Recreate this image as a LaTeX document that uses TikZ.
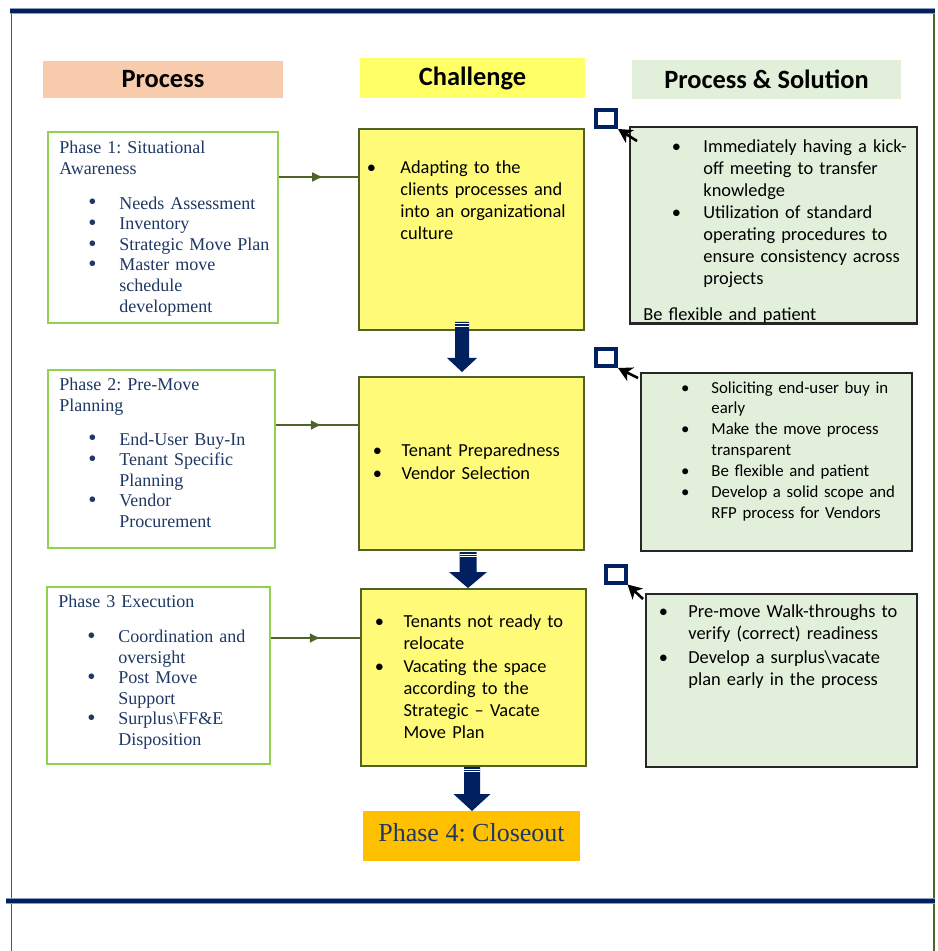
\documentclass[tikz,border=0pt]{standalone}
\usepackage{fontspec}
\setmainfont{Liberation Serif}
\newfontfamily\calibri{Carlito}
\usepackage{enumitem}
\usepackage{tikz}
\usetikzlibrary{arrows.meta, decorations.markings}

\definecolor{navy}{HTML}{002060}
\definecolor{inknavy}{HTML}{1F3864}
\definecolor{leaf}{HTML}{92D050}
\definecolor{leafdark}{HTML}{4F6228}
\definecolor{peach}{HTML}{F8CBAD}
\definecolor{lemonhead}{HTML}{FFFF66}
\definecolor{lemon}{HTML}{FFFB78}
\definecolor{mint}{HTML}{E2EFDA}
\definecolor{amber}{HTML}{FFC000}

\frenchspacing
\setlist[itemize]{label=\makebox[0pt]{\textbullet}, nosep}
\newcommand{\phasedot}{\makebox[0pt]{\raisebox{-0.4pt}{\scalebox{1.3}{\textbullet}}}}

% block arrow: x, top, head start, tip, shaft half width, head half width
\newcommand{\movearrow}[6]{%
  \fill[navy] (#1-#5,#2) -- (#1+#5,#2) -- (#1+#5,#3) -- (#1+#6,#3) -- (#1,#4)
    -- (#1-#6,#3) -- (#1-#5,#3) -- cycle;
  \fill[white] (#1-#5,#2+1.5) rectangle (#1+#5,#2+2.5);
  \fill[white] (#1-#5,#2+4) rectangle (#1+#5,#2+5);
}

\tikzset{
  header/.style={font=\calibri\bfseries\fontsize{13.2}{15}\selectfont, inner sep=0pt},
  phasebox/.style={draw=leaf, line width=1pt, fill=white},
  phasetext/.style={anchor=north west, inner sep=0pt, text width=110pt, text=inknavy, font=\fontsize{9}{10.3}\selectfont},
  issuebox/.style={draw=leafdark, line width=1pt, fill=lemon},
  issuetext/.style={inner sep=0pt, text width=104pt, font=\calibri\fontsize{9.2}{11}\selectfont},
  fixbox/.style={draw=black!85, line width=1pt, fill=mint},
  fixtext/.style={anchor=north west, inner sep=0pt, text width=140pt},
  marker/.style={draw=navy, line width=2pt, minimum width=10pt, minimum height=8.5pt, inner sep=0pt},
  link/.style={leafdark, line width=1pt, postaction={decorate},
    decoration={markings, mark=at position 0.56 with {\arrow{Latex[length=5.5pt,width=5pt]}}}},
  pointer/.style={black, line width=1.3pt, -{Stealth[length=7pt,width=7.5pt,inset=2pt]}},
}

\begin{document}
\begin{tikzpicture}[x=0.5pt, y=-0.5pt]
    \useasboundingbox (0,0) rectangle (937,951);
    \fill[white] (0,0) rectangle (937,951);

    % Frame
    \draw[leafdark, line width=0.75pt] (11.5,11) -- (11.5,951);
    \draw[leafdark, line width=0.75pt] (934,11) -- (934,951);
    \draw[navy!45, line width=2.6pt] (10,11) -- (935,11);
    \draw[navy, line width=2pt] (10,11) -- (935,11);
    \draw[navy!45, line width=2.6pt] (6,901) -- (935,901);
    \draw[navy, line width=2pt] (6,901) -- (935,901);

    % Column headers
    \node[header, fill=peach, minimum width=120pt, minimum height=18.5pt] (hproc) at (163,79.5) {Process};
    \node[header, fill=lemonhead, minimum width=112.5pt, minimum height=20pt] (hchal) at (472.5,78) {Challenge};
    \node[header, fill=mint, minimum width=134.5pt, minimum height=19.5pt] (hsol) at (766.5,79.5) {Process \& Solution};

    % Phases
    \node[phasebox, minimum width=115pt, minimum height=95.5pt] (ph1) at (163,227.5) {};
    \node[phasetext] (ph1txt) at ([shift={(12,10)}]ph1.north west) {Phase 1: Situational\\Awareness
      \begin{itemize}[topsep=7pt, leftmargin=30pt, labelsep=13.5pt, label=\phasedot]
        \item Needs Assessment
        \item Inventory
        \item Strategic Move Plan
        \item Master move\\schedule\\development
      \end{itemize}};

    \node[phasebox, minimum width=113.5pt, minimum height=89pt] (ph2) at (161.5,459) {};
    \node[phasetext] (ph2txt) at ([shift={(12,9)}]ph2.north west) {Phase 2: Pre-Move\\Planning
      \begin{itemize}[topsep=6.5pt, leftmargin=30pt, labelsep=13.5pt, label=\phasedot]
        \item End-User Buy-In
        \item Tenant Specific\\Planning
        \item Vendor\\Procurement
      \end{itemize}};

    \node[phasebox, minimum width=111.5pt, minimum height=88.5pt] (ph3) at (158.5,675.5) {};
    \node[phasetext] (ph3txt) at ([shift={(12,9)}]ph3.north west) {Phase 3 Execution
      \begin{itemize}[topsep=7pt, leftmargin=30pt, labelsep=13.5pt, label=\phasedot]
        \item Coordination and\\oversight
        \item Post Move\\Support
        \item Surplus\textbackslash FF\&E\\Disposition
      \end{itemize}};

    % Challenges
    \node[issuebox, minimum width=112.5pt, minimum height=100.5pt] (ch1) at (471.5,229.5) {};
    \node[issuetext, anchor=north west] (ch1txt) at ([shift={(8,23)}]ch1.north west) {%
      \begin{itemize}[leftmargin=17pt, labelsep=14.5pt]
        \item Adapting to the\\clients processes and\\into an organizational\\culture
      \end{itemize}};

    \node[issuebox, minimum width=112.5pt, minimum height=86.5pt] (ch2) at (471.5,463.5) {};
    \node[issuetext] (ch2txt) at ([yshift=3pt]ch2) {%
      \begin{itemize}[leftmargin=17pt, labelsep=12pt, itemsep=0.5pt]
        \item Tenant Preparedness
        \item Vendor Selection
      \end{itemize}};

    \node[issuebox, minimum width=112.5pt, minimum height=88.5pt] (ch3) at (473.5,677.5) {};
    \node[issuetext] (ch3txt) at ([yshift=2.5pt]ch3) {%
      \begin{itemize}[leftmargin=17pt, labelsep=12pt, itemsep=0.5pt]
        \item Tenants not ready to\\relocate
        \item Vacating the space\\according to the\\Strategic – Vacate\\Move Plan
      \end{itemize}};

    % Closeout
    \node[fill=amber, minimum width=108.5pt, minimum height=25pt, text=inknavy,
      font=\fontsize{13}{15}\selectfont] (close) at (471.5,836) {\raisebox{3.5pt}{Phase 4: Closeout}};

    % Solutions
    \node[fixbox, minimum width=143.5pt, minimum height=98pt] (so1) at (773.5,225) {};
    \begin{scope}
      \clip (so1.north west) rectangle (so1.south east);
      \node[fixtext, font=\calibri\fontsize{9.2}{11}\selectfont] (so1txt) at ([shift={(14,4)}]so1.north west) {%
        \begin{itemize}[leftmargin=30pt, labelsep=13.5pt]
          \item Immediately having a kick-\\off meeting to transfer\\knowledge
          \item Utilization of standard\\operating procedures to\\ensure consistency across\\projects
        \end{itemize}
        \vspace{7pt}
        Be flexible and patient};
    \end{scope}
    \draw[black!85, line width=1pt] (so1.south west) -- (so1.south east);

    \node[fixbox, minimum width=135.5pt, minimum height=89pt] (so2) at (776.5,462) {};
    \node[fixtext, font=\calibri\fontsize{8.4}{10.4}\selectfont] (so2txt) at ([shift={(14,0)}]so2.north west) {%
      \begin{itemize}[leftmargin=28.5pt, labelsep=13pt]
        \item Soliciting end-user buy in\\early
        \item Make the move process\\transparent
        \item Be flexible and patient
        \item Develop a solid scope and\\RFP process for Vendors
      \end{itemize}};

    \node[fixbox, minimum width=135.5pt, minimum height=86.5pt] (so3) at (781.5,680.5) {};
    \node[fixtext, font=\calibri\fontsize{9.2}{11}\selectfont] (so3txt) at ([shift={(10,2)}]so3.north west) {%
      \begin{itemize}[leftmargin=16.5pt, labelsep=12.5pt, itemsep=1pt]
        \item Pre-move Walk-throughs to\\verify (correct) readiness
        \item Develop a surplus\textbackslash vacate\\plan early in the process
      \end{itemize}};

    % Markers
    \node[marker] (sq1) at (606,118.5) {};
    \node[marker] (sq2) at (606,357.5) {};
    \node[marker] (sq3) at (615.5,574) {};
    \draw[pointer] ([shift={(8,15)}]so1.north west) -- (sq1.south east);
    \draw[pointer] ([shift={(-2,6)}]so2.north west) -- (sq2.south east);
    \draw[pointer] ([shift={(-2,6)}]so3.north west) -- (sq3.south east);

    % Phase to challenge
    \draw[link] (ph1.north east) ++(0,46) coordinate (l1) -- (l1 -| ch1.west);
    \draw[link] (ph2.north east) ++(0,56) coordinate (l2) -- (l2 -| ch2.west);
    \draw[link] (ph3.north east) ++(0,52) coordinate (l3) -- (l3 -| ch3.west);

    % Flow between challenges
    \movearrow{462}{322}{358}{372}{7}{15}
    \movearrow{468}{552}{572}{588}{8.5}{19}
    \movearrow{472}{767}{794}{811}{8}{18.5}
\end{tikzpicture}
\end{document}
